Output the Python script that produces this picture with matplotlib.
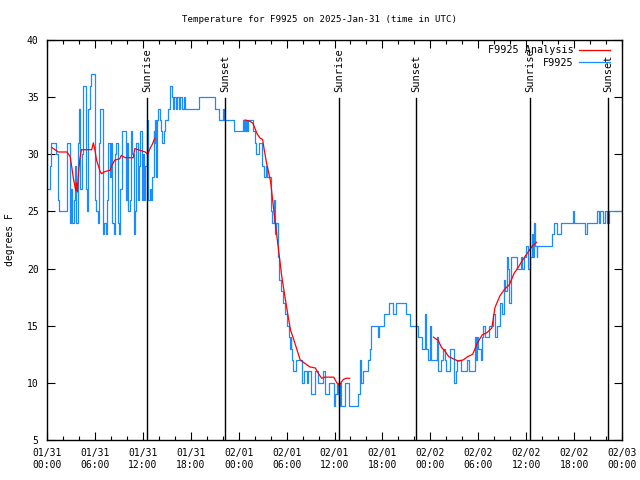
import numpy as np
import matplotlib
matplotlib.use('Agg')
import matplotlib.pyplot as plt
from matplotlib.ticker import MultipleLocator

# hours since 2025-01-31 00:00 UTC
# noisy first stretch, one reading every 10 min from 00:00
early_temps = [27, 27, 29, 31, 31, 31, 31, 30, 26, 25, 25, 25, 25, 25, 25, 31, 31, 24, 27, 24,
               26, 29, 24, 31, 34, 27, 30, 36, 36, 27, 25, 34, 36, 37, 37, 37, 26, 25, 24, 31,
               34, 34, 23, 24, 23, 26, 31, 28, 31, 24, 23, 30, 31, 24, 23, 27, 32, 32, 32, 26,
               31, 25, 26, 32, 30, 23, 25, 31, 26, 29, 32, 26, 30, 26, 29, 33, 26]
early_hours = [i / 6.0 for i in range(len(early_temps))]

obs_hours = [12.85, 13.0, 13.2, 13.35, 13.45, 13.55, 13.65, 13.8, 13.95, 14.1, 14.3, 14.45, 14.6,
             14.8, 15.2, 15.45, 15.6, 15.75, 15.9, 16.1, 16.3, 16.5, 16.7, 16.9, 17.1, 17.3,
             19.0, 21.0, 21.5, 22.0, 22.2, 23.4, 24.5, 24.7, 24.8, 24.9, 25.0, 25.1, 25.2,
             25.8, 26.0, 26.2, 26.6, 26.9, 27.2, 27.4, 27.6, 28.1, 28.2, 28.4, 28.5, 28.7,
             28.9, 29.1, 29.3, 29.6, 29.8, 30.1, 30.3, 30.4, 30.5, 30.6, 30.7, 30.8, 31.2,
             31.9, 32.2, 32.5, 32.7, 33.0, 33.5, 33.9, 34.5, 34.8, 35.3, 35.9, 36.1, 36.3,
             36.5, 36.6, 36.7, 36.8, 37.3, 37.8, 39.0, 39.2, 39.35, 39.6, 40.2, 40.4, 40.6,
             41.4, 41.6, 42.2, 42.8, 43.3, 43.7, 45.0, 45.5, 46.5, 46.7, 47.0, 47.3, 47.4,
             47.5, 47.7, 48.0, 48.1, 48.8, 49.0, 49.3, 49.6, 49.8, 50.0, 50.5, 51.0, 51.2,
             51.4, 51.8, 52.6, 52.8, 53.6, 53.7, 53.8, 54.0, 54.3, 54.5, 54.6, 54.9, 55.3,
             55.8, 56.1, 56.4, 56.7, 57.0, 57.2, 57.4, 57.6, 57.75, 57.9, 58.1, 58.8, 59.3,
             59.5, 59.7, 60.0, 60.2, 60.5, 60.7, 60.9, 61.0, 61.1, 61.3, 61.4, 63.2, 63.5,
             63.9, 64.3, 65.9, 66.0, 67.4, 67.6, 68.9, 69.1, 69.3, 69.6, 69.9, 70.1, 70.4, 72.0]
obs_temps = [27, 26, 28, 32, 31, 33, 28, 33, 34, 33, 32, 31, 32,
             33, 34, 36, 35, 34, 35, 34, 35, 34, 35, 34, 35, 34,
             35, 34, 33, 34, 33, 32, 33, 32, 33, 32, 33, 32, 33,
             32, 31, 30, 31, 29, 28, 29, 28, 25, 24, 26, 23, 24,
             21, 19, 18, 17, 16, 15, 14, 13, 14, 13, 12, 11, 12,
             10, 11, 10, 11, 9, 11, 10, 11, 9, 10, 8, 9, 10,
             9, 8, 10, 8, 10, 8, 9, 12, 10, 11, 12, 13, 15,
             14, 15, 16, 17, 16, 17, 16, 15, 14, 14, 13, 16, 15,
             13, 12, 15, 12, 14, 11, 12, 13, 12, 11, 13, 10, 11,
             12, 11, 12, 11, 14, 12, 14, 13, 12, 14, 15, 14, 15,
             16, 14, 15, 17, 16, 19, 18, 21, 20, 17, 21, 20, 21,
             20, 21, 22, 20, 21, 23, 21, 24, 22, 21, 22, 23, 24,
             23, 24, 25, 24, 23, 24, 25, 24, 25, 24, 25, 24, 25, 25]

blue_hours = early_hours + obs_hours
blue_temps = early_temps + obs_temps

red_hours_1 = [0.6, 1.0, 1.4, 2.5, 2.9, 3.1, 3.3, 3.5, 3.6, 3.7, 3.8, 3.9, 4.1, 4.3, 5.6, 5.8,
               6.0, 6.2, 6.6, 6.8, 7.3, 7.9, 8.1, 8.5, 9.1, 9.3, 9.8, 10.8, 11.0, 11.4, 12.3,
               12.6, 12.9, 13.2, 13.5]
red_temps_1 = [30.6, 30.4, 30.2, 30.2, 29.8, 28.9, 27.9, 27.2, 26.8, 27.5, 26.7, 28.0, 29.5,
               30.4, 30.4, 31.0, 30.4, 29.5, 28.6, 28.3, 28.5, 28.6, 29.0, 29.5, 29.6, 29.9,
               29.7, 29.7, 30.5, 30.4, 30.2, 30.0, 30.5, 30.9, 31.4]
red_hours_2 = [24.8, 25.4, 25.8, 26.3, 26.7, 27.0, 27.2, 27.5, 27.7, 28.0, 28.3, 28.6, 29.0,
               29.4, 29.8, 30.2, 30.5, 30.8, 31.3, 31.7, 32.3, 32.9, 33.6, 34.0, 34.4, 34.8,
               35.4, 35.9, 36.3, 36.6, 37.1, 37.5, 37.9]
red_temps_2 = [33.0, 32.9, 32.7, 31.8, 31.4, 31.3, 30.4, 29.2, 28.6, 27.6, 25.7, 23.9, 21.6,
               19.3, 17.5, 15.8, 14.6, 14.0, 12.9, 12.0, 11.7, 11.4, 11.3, 10.8, 10.4, 10.5,
               10.5, 10.5, 10.0, 9.8, 10.3, 10.4, 10.4]
red_hours_3 = [48.4, 48.6, 49.0, 49.4, 49.8, 50.3, 50.9, 51.5, 52.1, 52.7, 53.3, 53.9, 54.5,
               55.1, 55.7, 56.1, 56.7, 57.3, 57.9, 58.5, 59.0, 59.6, 60.2, 60.8, 61.3]
red_temps_3 = [14.0, 13.9, 13.7, 13.1, 12.8, 12.3, 12.1, 11.9, 12.0, 12.3, 12.5, 13.5, 14.2,
               14.4, 14.8, 16.6, 17.6, 18.2, 18.6, 19.6, 20.1, 20.8, 21.4, 22.0, 22.3]

sun_labels = ['Sunrise', 'Sunset', 'Sunrise', 'Sunset', 'Sunrise', 'Sunset']
sun_hours = [12.5, 22.3, 36.55, 46.2, 60.5, 70.25]

tick_hours = list(range(0, 73, 6))
tick_labels = ['01/31\n00:00', '01/31\n06:00', '01/31\n12:00', '01/31\n18:00',
               '02/01\n00:00', '02/01\n06:00', '02/01\n12:00', '02/01\n18:00',
               '02/02\n00:00', '02/02\n06:00', '02/02\n12:00', '02/02\n18:00',
               '02/03\n00:00']


def main():
    plt.rcParams['font.family'] = ['DejaVu Sans Mono']
    plt.rcParams['font.size'] = 7
    fig = plt.figure(figsize=(6.4, 4.8), dpi=100)
    ax = fig.add_axes([47 / 640, 40 / 480, 575 / 640, 400 / 480])

    red_h = red_hours_1 + [np.nan] + red_hours_2 + [np.nan] + red_hours_3
    red_t = red_temps_1 + [np.nan] + red_temps_2 + [np.nan] + red_temps_3
    ax.plot(red_h, red_t, color='#ff0000', lw=0.9, label='F9925 Analysis', zorder=3)
    ax.plot(blue_hours, blue_temps, color='#1a8cff', lw=0.9, drawstyle='steps-post',
            label='F9925', zorder=2)

    for name, h in zip(sun_labels, sun_hours):
        ax.axvline(h, ymin=0, ymax=0.855, color='black', lw=1.0, zorder=4)
        ax.text(h, 0.87, name, transform=ax.get_xaxis_transform(), rotation=90,
                ha='center', va='bottom', fontsize=7.5)

    ax.set_xlim(0, 72)
    ax.set_ylim(5, 40)
    ax.set_xticks(tick_hours)
    ax.set_xticklabels(tick_labels)
    ax.xaxis.set_minor_locator(MultipleLocator(2))
    ax.yaxis.set_major_locator(MultipleLocator(5))
    ax.tick_params(which='both', direction='in', top=True, right=True, width=0.8)
    ax.tick_params(which='major', length=6, pad=6)
    ax.tick_params(which='minor', length=3)
    for s in ax.spines.values():
        s.set_linewidth(1.0)

    # y label sits near the left edge, like gnuplot
    fig.text(10 / 640, 0.5, 'degrees F', rotation=90, ha='center', va='center', fontsize=7)
    fig.text(0.5, 1 - 20 / 480, 'Temperature for F9925 on 2025-Jan-31 (time in UTC)',
             ha='center', va='center', fontsize=6.6)

    leg = ax.legend(loc='upper right', bbox_to_anchor=(0.986, 0.997), frameon=False,
                    markerfirst=False, handlelength=3.0, handletextpad=0.6,
                    labelspacing=0.25, borderaxespad=0.0, fontsize=7.3)
    for t in leg.get_texts():
        t.set_ha('right')

    fig.savefig('out.png', dpi=100)


if __name__ == '__main__':
    main()
